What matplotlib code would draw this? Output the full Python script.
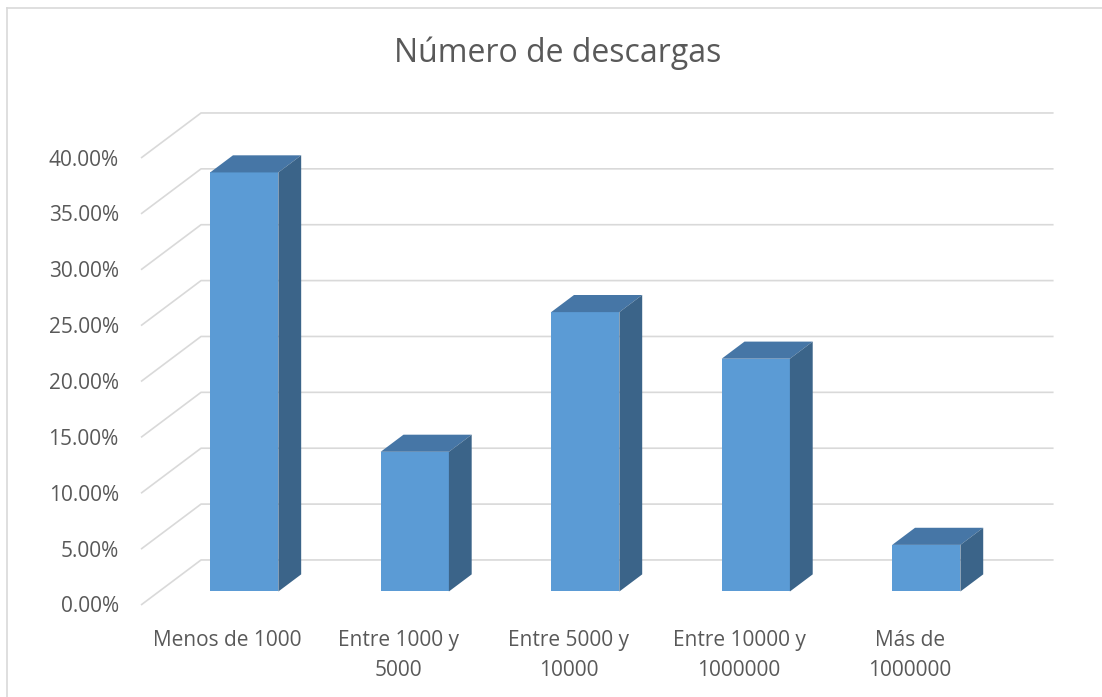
import matplotlib
matplotlib.use("Agg")
import matplotlib.pyplot as plt
from matplotlib.patches import Polygon
from matplotlib.lines import Line2D

plt.rcParams['font.family'] = ['Open Sans', 'DejaVu Sans']

# data
categorias = ["Menos de 1000", "Entre 1000 y\n5000", "Entre 5000 y\n10000",
              "Entre 10000 y\n1000000", "Más de\n1000000"]
porcentajes = [37.50, 12.50, 25.00, 20.83, 4.17]
ticks = [0, 5, 10, 15, 20, 25, 30, 35, 40]

# colours
frente = "#5B9BD5"
tapa = "#4676A6"
lado = "#3B6489"
rejilla = "#D9D9D9"
texto = "#595959"

# fake 3d geometry (in data units)
DX = 0.352     # depth shift along x (categories)
DY = 4.03      # depth shift along y (percent)
ancho = 0.40   # bar width
t0 = 0.30      # where the bar front sits inside the depth
prof = 0.38    # bar depth

fig = plt.figure(figsize=(11.02, 6.97), dpi=100)
ax = fig.add_axes([0, 0, 1, 1])
ax.set_xlim(-1.327, 5.136)
ax.set_ylim(-8.233, 54.139)
ax.axis("off")

# chart border
fig.add_artist(Line2D([7 / 1102, 7 / 1102], [0, 689 / 697], transform=fig.transFigure,
                      color=rejilla, lw=1.2))
fig.add_artist(Line2D([7 / 1102, 1], [689 / 697, 689 / 697], transform=fig.transFigure,
                      color=rejilla, lw=1.2))

# gridlines: side wall diagonal + back wall line
x0 = -0.5
x1 = len(categorias) - 0.5
for t in ticks:
    ax.plot([x0, x0 + DX, x1 + DX], [t, t + DY, t + DY], color=rejilla, lw=1.2,
            solid_capstyle="butt", zorder=1)
    ax.annotate(f"{t:.2f}%", (x0, t), xytext=(-16, -5.4), textcoords="offset points",
                ha="right", va="baseline", fontsize=15, color=texto)

# bars
for i, v in enumerate(porcentajes):
    xl = i - ancho / 2 + t0 * DX
    xr = xl + ancho
    yb = t0 * DY
    yt = v + t0 * DY
    ddx = prof * DX
    ddy = prof * DY
    ax.add_patch(Polygon([(xl, yb), (xr, yb), (xr, yt), (xl, yt)],
                         closed=True, fc=frente, ec="none", zorder=3))
    ax.add_patch(Polygon([(xl, yt), (xr, yt), (xr + ddx, yt + ddy), (xl + ddx, yt + ddy)],
                         closed=True, fc=tapa, ec="none", zorder=3))
    ax.add_patch(Polygon([(xr, yb), (xr + ddx, yb + ddy), (xr + ddx, yt + ddy), (xr, yt)],
                         closed=True, fc=lado, ec="none", zorder=3))

# category labels, one text per line
for i, c in enumerate(categorias):
    for k, linea in enumerate(c.split("\n")):
        ax.annotate(linea, (i, 0), xytext=(1, -29.5 - 21.6 * k),
                    textcoords="offset points", ha="center", va="baseline",
                    fontsize=15, color=texto)

fig.text(557.5 / 1102, (697 - 62) / 697, "Número de descargas", ha="center",
         va="baseline", fontsize=23, color=texto)

fig.savefig("out.png", dpi=100)
